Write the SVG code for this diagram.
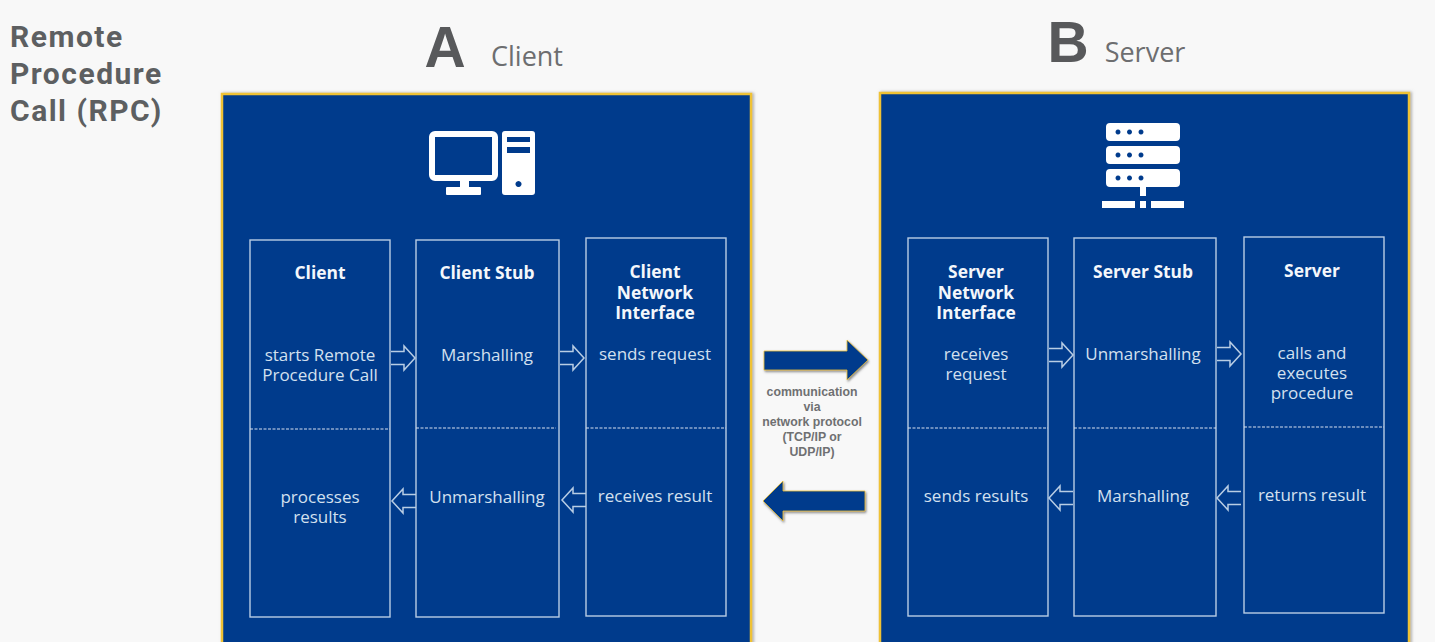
<svg xmlns="http://www.w3.org/2000/svg" width="1435" height="642" viewBox="0 0 1435 642">
<defs>
<filter id="shadow" x="-20%" y="-20%" width="140%" height="140%"><feDropShadow dx="1" dy="1.5" stdDeviation="1.2" flood-color="#555" flood-opacity="0.7"/></filter>
<filter id="pshadow" x="-3%" y="-3%" width="106%" height="106%"><feDropShadow dx="1.500" dy="0" stdDeviation="1.500" flood-color="#666" flood-opacity="0.55"/></filter>
<path id="hr" d="M0 -6.5H13V-12L24 0L13 12V6.5H0"/>
<path id="hl" d="M24 -6.5H11V-12L0 0L11 12V6.5H24"/>
<path id="unit" fill-rule="evenodd" d="M4 0H70Q74 0 74 4V14Q74 18 70 18H4Q0 18 0 14V4Q0 0 4 0ZM12 6.500a2.500 2.500 0 1 0 .01 0ZM23.500 6.500a2.500 2.500 0 1 0 .01 0ZM35 6.500a2.500 2.500 0 1 0 .01 0Z"/>
</defs>
<style>
text{font-family:"Open Sans","Noto Sans",sans-serif;text-anchor:middle}
.panel{fill:#003a8c;stroke:#efc235;stroke-width:2.5;filter:url(#pshadow)}
.box{fill:none;stroke:#b8cde4;stroke-width:1.4}
.dash{stroke:#d5e0ee;stroke-width:1.2;stroke-dasharray:3 1.5}
.arr{fill:none;stroke:#b8cde4;stroke-width:1.5}
.h{fill:#f4f7fb;font-size:17.4px;font-weight:700}
.b{fill:#d3e0ef;font-size:17px}
.big{fill:#58595b;font-size:57px;font-weight:700;font-family:"Liberation Sans",sans-serif}
.sub{fill:#6d6e70;font-size:27px}
.title{fill:#5d5f61;font-size:30px;font-weight:700;text-anchor:start;font-family:"Roboto",sans-serif;letter-spacing:1.5px}
.note{fill:#6f7072;font-size:12.300px;font-weight:700;font-family:"Liberation Sans",sans-serif}
.big-arrow{fill:#003a8c;stroke:#efc235;stroke-width:.8;filter:url(#shadow)}
.w{fill:#fff}
</style>
<rect width="1435" height="642" fill="#f8f8f8"/>
<g id="title"><text class="title" x="10" y="47">Remote<tspan x="10" dy="37">Procedure</tspan><tspan x="10" dy="37">Call (RPC)</tspan></text></g>
<g id="headA"><text class="big" x="445" y="67">A</text><text class="sub" x="527" y="66">Client</text></g>
<g id="headB"><text class="big" x="1068" y="62">B</text><text class="sub" x="1145" y="62">Server</text></g>
<g id="panel-a"><rect class="panel" x="222" y="94" width="529" height="560"/>
<g id="computer-icon"><rect x="432" y="134" width="63" height="44" rx="3" fill="none" stroke="#fff" stroke-width="6"/><rect class="w" x="460" y="180" width="9" height="9"/><rect class="w" x="446" y="187" width="35" height="8" rx="1"/><path class="w" fill-rule="evenodd" d="M505 131H532Q535 131 535 134V192Q535 195 532 195H505Q502 195 502 192V134Q502 131 505 131ZM507 137V142H530V137ZM507 147V153H530V147ZM518.500 181a3 3 0 1 0 .01 0Z"/></g>
</g>
<g id="panel-b"><rect class="panel" x="880" y="93" width="529" height="561"/>
<g id="server-icon"><use class="w" href="#unit" x="1106" y="123"/><use class="w" href="#unit" x="1106" y="146"/><use class="w" href="#unit" x="1106" y="169"/><rect class="w" x="1140" y="187" width="6" height="9"/><rect class="w" x="1102" y="201" width="33" height="7"/><rect class="w" x="1140" y="201" width="6" height="7"/><rect class="w" x="1151" y="201" width="33" height="7"/></g>
</g>
<g id="client"><rect class="box" x="250" y="240" width="140" height="377"/><line class="dash" x1="250" y1="429" x2="390" y2="429"/><text class="h" x="320" y="279">Client</text><text class="b" x="320" y="360.500">starts Remote<tspan x="320" dy="20">Procedure Call</tspan></text><text class="b" x="320" y="502.500">processes<tspan x="320" dy="20">results</tspan></text></g>
<g id="client-stub"><rect class="box" x="416" y="240" width="143" height="377"/><line class="dash" x1="416" y1="428" x2="556" y2="428"/><text class="h" x="487" y="279">Client Stub</text><text class="b" x="487" y="360.500">Marshalling</text><text class="b" x="487" y="502.500">Unmarshalling</text></g>
<g id="client-net"><rect class="box" x="586" y="238" width="140" height="378"/><line class="dash" x1="586" y1="428" x2="726" y2="428"/><text class="h" x="655" y="278">Client<tspan x="655" dy="20.500">Network</tspan><tspan x="655" dy="20.500">Interface</tspan></text><text class="b" x="655" y="359.500">sends request</text><text class="b" x="655" y="501.500">receives result</text></g>
<g id="server-net"><rect class="box" x="908" y="238" width="140" height="378"/><line class="dash" x1="908" y1="428" x2="1048" y2="428"/><text class="h" x="976" y="278">Server<tspan x="976" dy="20.500">Network</tspan><tspan x="976" dy="20.500">Interface</tspan></text><text class="b" x="976" y="359.500">receives<tspan x="976" dy="20">request</tspan></text><text class="b" x="976" y="501.500">sends results</text></g>
<g id="server-stub"><rect class="box" x="1074" y="238" width="142" height="378"/><line class="dash" x1="1074" y1="428" x2="1216" y2="428"/><text class="h" x="1143" y="278">Server Stub</text><text class="b" x="1143" y="359.500">Unmarshalling</text><text class="b" x="1143" y="501.500">Marshalling</text></g>
<g id="server"><rect class="box" x="1244" y="237" width="140" height="376"/><line class="dash" x1="1244" y1="427" x2="1384" y2="427"/><text class="h" x="1312" y="277">Server</text><text class="b" x="1312" y="358.500">calls and<tspan x="1312" dy="20">executes</tspan><tspan x="1312" dy="20.500">procedure</tspan></text><text class="b" x="1312" y="500.500">returns result</text></g>
<g id="connectors">
<use class="arr" href="#hr" x="391" y="358"/><use class="arr" href="#hr" x="560" y="358"/><use class="arr" href="#hr" x="1049" y="355"/><use class="arr" href="#hr" x="1217" y="354"/>
<use class="arr" href="#hl" x="392" y="501"/><use class="arr" href="#hl" x="562" y="500"/><use class="arr" href="#hl" x="1049" y="498"/><use class="arr" href="#hl" x="1217" y="498"/>
<path class="big-arrow" d="M764 351H847V340L868 360L847 380V370H764Z"/>
<path class="big-arrow" d="M865 491H783V481L763 501L783 521V511H865Z"/>
</g>
<g id="note"><text class="note" x="812" y="396">communication<tspan x="812" dy="15">via</tspan><tspan x="812" dy="15">network protocol</tspan><tspan x="812" dy="15">(TCP/IP or</tspan><tspan x="812" dy="15">UDP/IP)</tspan></text></g>
</svg>
